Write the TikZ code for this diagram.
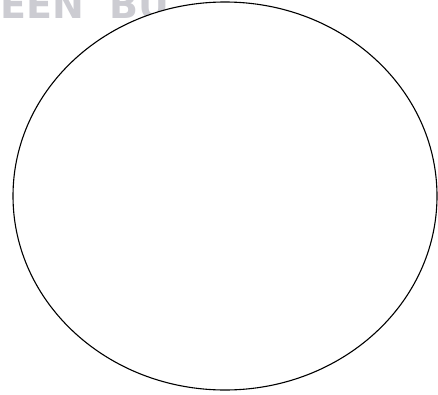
\documentclass[tikz,border=0pt]{standalone}
\usepackage{fontspec}
\usepackage{xcolor}
\newfontfamily\wmfont{DejaVu Sans}
\definecolor{wmgray}{RGB}{204,204,210}

\begin{document}
\begin{tikzpicture}[x=1pt,y=1pt]
    % Frame
    \useasboundingbox (0,0) rectangle (438,394);
    \clip (0,0) rectangle (438,394);

    % Watermark text
    \node[anchor=base west, inner sep=0pt, text=wmgray, font=\wmfont\bfseries\fontsize{38}{38}\selectfont] (wm) at (0,375) {EEN\hspace{26pt}BU};

    % Outline
    \draw[line width=1.1pt, fill=white] (225,198) ellipse [x radius=212, y radius=194];
\end{tikzpicture}
\end{document}
